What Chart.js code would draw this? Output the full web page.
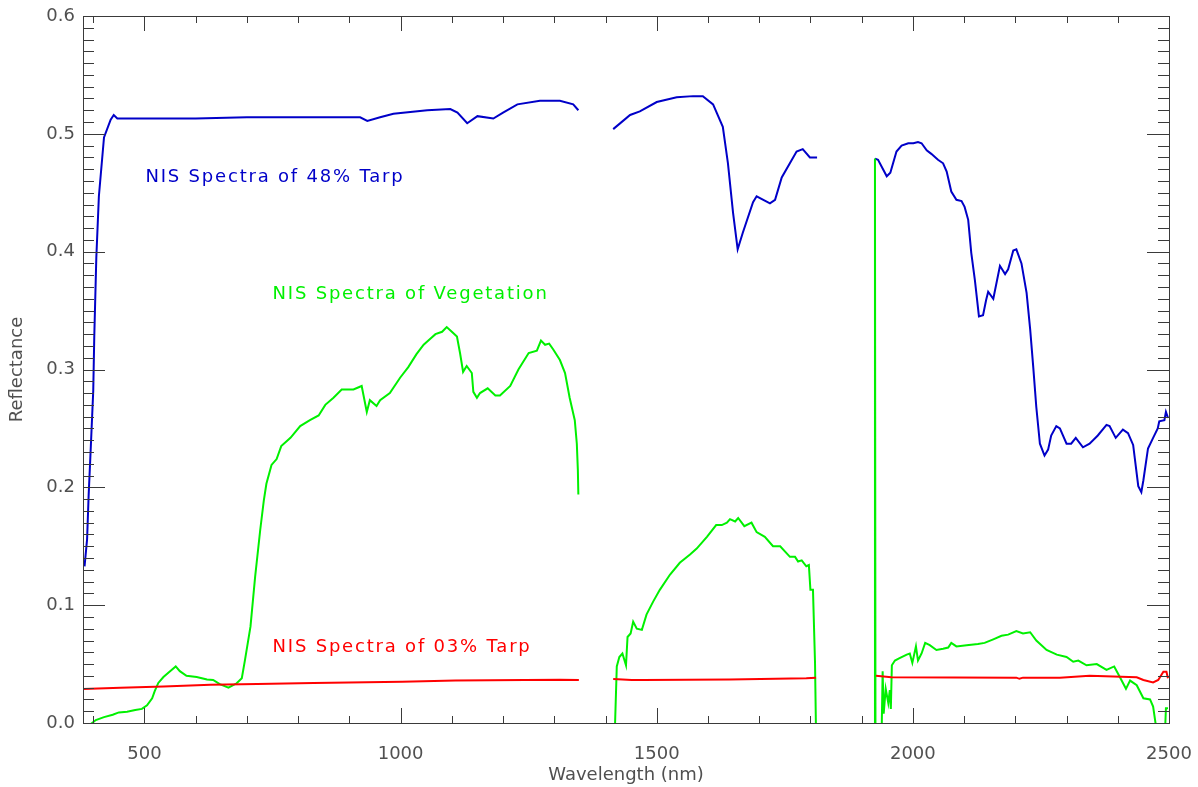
<!DOCTYPE html>
<html>
<head>
<meta charset="utf-8">
<script src="https://cdn.jsdelivr.net/npm/chart.js@4.4.1/dist/chart.umd.min.js"></script>
<style>
  html, body { margin: 0; padding: 0; background: #fff; }
  #spectra { display: block; }
</style>
</head>
<body>
<canvas id="spectra" width="1198" height="787"></canvas>
<script>
// NIS spectra (wavelength in nm, reflectance); null marks the water-band gaps
var tarp48Wl = [383, 388, 391, 395, 400, 402, 406, 411, 421, 434, 440, 447, 512, 600, 700, 800, 869, 921, 935, 960, 986, 1052, 1097, 1111, 1130, 1150, 1181, 1200, 1228, 1272, 1311, 1337, 1347,
    1380,
    1415, 1448, 1467, 1500, 1539, 1571, 1590, 1610, 1629, 1639, 1649, 1658, 1668, 1688, 1695, 1721, 1731, 1744, 1773, 1785, 1799, 1813,
    1870,
    1926, 1932, 1949, 1956, 1968, 1978, 1991, 2001, 2010, 2017, 2027, 2036, 2049, 2059, 2066, 2075, 2085, 2095, 2101, 2108, 2114, 2121, 2129, 2137, 2143, 2147, 2157, 2170, 2180, 2186, 2196, 2202, 2212, 2222, 2229, 2235, 2241, 2248, 2257, 2264, 2270, 2280, 2287, 2300, 2309, 2318, 2332, 2345, 2361, 2378, 2384, 2396, 2410, 2420, 2430, 2440, 2446, 2450, 2459, 2469, 2478, 2481, 2491, 2494, 2498];
var tarp48Refl = [0.133, 0.156, 0.193, 0.232, 0.282, 0.328, 0.395, 0.447, 0.497, 0.512, 0.516, 0.513, 0.513, 0.513, 0.514, 0.514, 0.514, 0.514, 0.511, 0.514, 0.517, 0.520, 0.521, 0.518, 0.509, 0.515, 0.513, 0.518, 0.525, 0.528, 0.528, 0.525, 0.520,
    null,
    0.504, 0.516, 0.519, 0.527, 0.531, 0.532, 0.532, 0.525, 0.506, 0.475, 0.433, 0.402, 0.416, 0.442, 0.447, 0.441, 0.444, 0.463, 0.485, 0.487, 0.480, 0.480,
    null,
    0.479, 0.478, 0.464, 0.467, 0.485, 0.490, 0.492, 0.492, 0.493, 0.492, 0.486, 0.483, 0.478, 0.475, 0.468, 0.451, 0.444, 0.443, 0.438, 0.427, 0.399, 0.376, 0.345, 0.346, 0.359, 0.366, 0.360, 0.388, 0.381, 0.385, 0.401, 0.402, 0.390, 0.365, 0.334, 0.302, 0.268, 0.237, 0.227, 0.232, 0.244, 0.252, 0.250, 0.237, 0.237, 0.242, 0.234, 0.237, 0.244, 0.253, 0.252, 0.242, 0.249, 0.246, 0.236, 0.201, 0.196, 0.206, 0.233, 0.242, 0.250, 0.256, 0.257, 0.264, 0.259];

var vegWl = [384, 395, 405, 421, 438, 450, 466, 482, 495, 505, 515, 520, 527, 537, 550, 561, 569, 582, 602, 622, 634, 647, 664, 680, 690, 696, 707, 716, 726, 733, 738, 748, 758, 767, 785, 804, 823, 840, 853, 869, 885, 908, 924, 934, 940, 953, 960, 979, 999, 1015, 1031, 1045, 1058, 1068, 1081, 1090, 1100, 1110, 1116, 1122, 1129, 1139, 1142, 1149, 1155, 1170, 1185, 1194, 1214, 1230, 1250, 1266, 1274, 1282, 1290, 1298, 1311, 1321, 1330, 1340, 1344, 1346, 1347,
    1380,
    1418, 1422, 1427, 1433, 1440, 1443, 1449, 1454, 1461, 1471, 1480, 1493, 1506, 1526, 1545, 1565, 1578, 1598, 1616, 1627, 1637, 1643, 1653, 1659, 1671, 1685, 1695, 1711, 1727, 1741, 1760, 1770, 1776, 1783, 1792, 1797, 1800, 1805, 1809, 1811,
    1870,
    1925, 1926, 1927, 1939, 1941, 1943, 1947, 1952, 1955, 1957, 1959, 1965, 1974, 1988, 1994, 1999, 2006, 2010, 2017, 2024, 2033, 2046, 2059, 2069, 2075, 2085, 2105, 2127, 2140, 2157, 2173, 2186, 2202, 2215, 2229, 2241, 2261, 2281, 2300, 2313, 2323, 2339, 2359, 2378, 2393, 2404, 2416, 2424, 2437, 2450, 2463, 2469, 2477, 2492, 2494, 2498];
var vegRefl = [-0.004, -0.001, 0.0025, 0.005, 0.007, 0.009, 0.0096, 0.011, 0.012, 0.015, 0.021, 0.027, 0.034, 0.039, 0.044, 0.048, 0.044, 0.040, 0.039, 0.037, 0.0365, 0.033, 0.030, 0.0337, 0.038, 0.053, 0.082, 0.124, 0.164, 0.189, 0.203, 0.219, 0.224, 0.235, 0.242, 0.252, 0.257, 0.261, 0.270, 0.276, 0.283, 0.283, 0.286, 0.264, 0.274, 0.269, 0.274, 0.280, 0.293, 0.302, 0.313, 0.321, 0.326, 0.330, 0.332, 0.336, 0.332, 0.328, 0.314, 0.298, 0.303, 0.297, 0.281, 0.276, 0.280, 0.284, 0.278, 0.278, 0.286, 0.300, 0.314, 0.316, 0.3245, 0.321, 0.322, 0.317, 0.308, 0.297, 0.276, 0.257, 0.237, 0.215, 0.194,
    null,
    -0.01, 0.048, 0.056, 0.059, 0.049, 0.073, 0.076, 0.086, 0.080, 0.079, 0.092, 0.103, 0.113, 0.126, 0.136, 0.143, 0.148, 0.158, 0.168, 0.168, 0.170, 0.173, 0.171, 0.174, 0.167, 0.170, 0.162, 0.158, 0.150, 0.150, 0.141, 0.141, 0.137, 0.138, 0.133, 0.134, 0.113, 0.113, 0.051, -0.01,
    null,
    -0.01, 0.479, -0.01, -0.01, 0.044, 0.008, 0.029, 0.017, 0.028, 0.012, 0.049, 0.053, 0.055, 0.058, 0.059, 0.051, 0.065, 0.053, 0.059, 0.068, 0.066, 0.062, 0.063, 0.064, 0.068, 0.065, 0.066, 0.067, 0.068, 0.071, 0.074, 0.075, 0.078, 0.076, 0.077, 0.070, 0.062, 0.058, 0.056, 0.052, 0.053, 0.049, 0.050, 0.045, 0.048, 0.039, 0.029, 0.036, 0.032, 0.021, 0.020, 0.014, -0.01, -0.01, 0.0125, 0.0125];

var tarp03Wl = [380, 453, 537, 629, 720, 830, 1003, 1107, 1311, 1348,
    1380,
    1415, 1451, 1473, 1643, 1792, 1811,
    1870,
    1928, 1958, 2202, 2208, 2215, 2287, 2345, 2437, 2450, 2469, 2479, 2489, 2495, 2498];
var tarp03Refl = [0.0289, 0.030, 0.031, 0.0325, 0.033, 0.034, 0.035, 0.036, 0.0368, 0.0365,
    null,
    0.0374, 0.0365, 0.0365, 0.037, 0.038, 0.0385,
    null,
    0.040, 0.0388, 0.0385, 0.0375, 0.0385, 0.0385, 0.040, 0.0388, 0.0365, 0.0345, 0.0365, 0.0435, 0.0435, 0.038];

var seriesNames = ["NIS Spectra of 48% Tarp", "NIS Spectra of Vegetation", "NIS Spectra of 03% Tarp"];
var seriesColors = ["#0000c8", "#00f000", "#ff0000"];

// where the in-plot labels sit, in data units (nm, reflectance)
var labelWl = [502, 750, 750];
var labelRefl = [0.463, 0.364, 0.064];

var xTicks = [];
for (var w = 400; w <= 2500; w += 100) xTicks.push(w);
var yTicks = [];
for (var k = 0; k <= 60; k++) yTicks.push(k / 100);

function pairs(xs, ys) {
    return xs.map(function(x, i) { return {x: x, y: ys[i]}; });
}

var axisColor = "#3a3a3a";
var textColor = "#505050";
var fontFamily = "'DejaVu Sans', sans-serif";

// IDL-style frame: box on all four sides, ticks pointing inward, labels in colour
var idlFrame = {
    id: 'idlFrame',
    afterDatasetsDraw: function(chart) {
        var ctx = chart.ctx;
        var a = chart.chartArea;
        var xs = chart.scales.x, ys = chart.scales.y;
        ctx.save();
        ctx.strokeStyle = axisColor;
        ctx.lineWidth = 1;
        ctx.beginPath();
        xTicks.forEach(function(v) {
            var px = Math.round(xs.getPixelForValue(v)) + 0.5;
            var len = v % 500 === 0 ? 15 : 7;
            ctx.moveTo(px, a.bottom); ctx.lineTo(px, a.bottom - len);
            ctx.moveTo(px, a.top); ctx.lineTo(px, a.top + len);
        });
        yTicks.forEach(function(v, i) {
            var py = Math.round(ys.getPixelForValue(v)) + 0.5;
            var len = i % 10 === 0 ? 22 : 11;
            ctx.moveTo(a.left, py); ctx.lineTo(a.left + len, py);
            ctx.moveTo(a.right, py); ctx.lineTo(a.right - len, py);
        });
        ctx.stroke();
        ctx.strokeRect(Math.round(a.left) + 0.5, Math.round(a.top) + 0.5,
            Math.round(a.right - a.left), Math.round(a.bottom - a.top));

        ctx.font = "18px " + fontFamily;
        ctx.letterSpacing = "1.8px";
        ctx.textBaseline = "middle";
        ctx.textAlign = "left";
        seriesNames.forEach(function(name, i) {
            ctx.fillStyle = seriesColors[i];
            ctx.fillText(name, xs.getPixelForValue(labelWl[i]), ys.getPixelForValue(labelRefl[i]));
        });
        ctx.restore();
    }
};

var tarp48 = pairs(tarp48Wl, tarp48Refl);
var veg = pairs(vegWl, vegRefl);
var tarp03 = pairs(tarp03Wl, tarp03Refl);

var spectra = document.getElementById("spectra");
var spectraChart = new Chart(spectra, {
    type: 'line',
    data: {
        datasets: [{
            label: seriesNames[0],
            data: tarp48,
            borderColor: seriesColors[0],
            order: 3
        }, {
            label: seriesNames[1],
            data: veg,
            borderColor: seriesColors[1],
            order: 2
        }, {
            label: seriesNames[2],
            data: tarp03,
            borderColor: seriesColors[2],
            order: 1
        }]
    },
    options: {
        responsive: false,
        animation: false,
        events: [],
        layout: {
            padding: {top: 16, right: 29, bottom: 0, left: 0}
        },
        elements: {
            line: {borderWidth: 2, tension: 0, fill: false},
            point: {radius: 0}
        },
        spanGaps: false,
        plugins: {
            legend: {display: false},
            tooltip: {enabled: false}
        },
        scales: {
            x: {
                type: 'linear',
                min: 380,
                max: 2500,
                afterBuildTicks: function(scale) {
                    scale.ticks = xTicks.map(function(v) { return {value: v}; });
                },
                afterFit: function(scale) {
                    scale.height = 64;
                    scale.paddingLeft = 0;
                    scale.paddingRight = 0;
                },
                grid: {display: false, drawTicks: false},
                border: {display: false},
                ticks: {
                    autoSkip: false,
                    maxRotation: 0,
                    padding: 21,
                    color: textColor,
                    font: {family: fontFamily, size: 18},
                    callback: function(v) { return v % 500 === 0 ? String(v) : ''; }
                },
                title: {
                    display: true,
                    text: 'Wavelength (nm)',
                    color: textColor,
                    font: {family: fontFamily, size: 18},
                    padding: {top: 0, bottom: 1}
                }
            },
            y: {
                min: 0,
                max: 0.6,
                afterBuildTicks: function(scale) {
                    scale.ticks = yTicks.map(function(v) { return {value: v}; });
                },
                afterFit: function(scale) {
                    scale.width = 83;
                    scale.paddingTop = 0;
                    scale.paddingBottom = 0;
                },
                grid: {display: false, drawTicks: false},
                border: {display: false},
                ticks: {
                    autoSkip: false,
                    padding: 8,
                    color: textColor,
                    font: {family: fontFamily, size: 18},
                    callback: function(v) {
                        var c = Math.round(v * 100);
                        return c % 10 === 0 ? (c / 100).toFixed(1) : '';
                    }
                },
                title: {
                    display: true,
                    text: 'Reflectance',
                    color: textColor,
                    font: {family: fontFamily, size: 18},
                    padding: {top: 7, bottom: 0}
                }
            }
        }
    },
    plugins: [idlFrame]
});
</script>
</body>
</html>
